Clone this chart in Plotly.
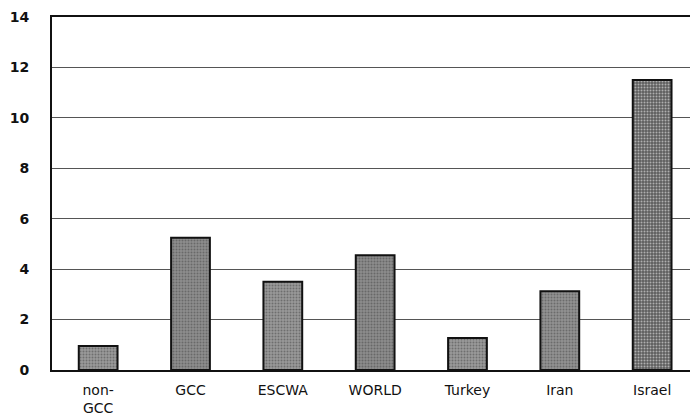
import plotly.graph_objects as go

categories = ["non-<br>GCC", "GCC", "ESCWA", "WORLD", "Turkey", "Iran", "Israel"]
values = [0.95, 5.25, 3.5, 4.55, 1.27, 3.12, 11.5]
bar_colors = ["#9a9a9a", "#8e8e8e", "#999999", "#8c8c8c", "#9a9a9a", "#929292", "#5e5e5e"]
y_ticks = [0, 2, 4, 6, 8, 10, 12, 14]

fig = go.Figure()
fig.add_trace(go.Bar(
    x=list(range(len(categories))),
    y=values,
    width=0.42,
    marker=dict(
        color=bar_colors,
        line=dict(color="#111111", width=2),
        pattern=dict(shape=".", fgcolor="#444444", size=3, solidity=0.35, fillmode="overlay"),
    ),
))

fig.update_layout(
    width=690, height=417,
    margin=dict(l=52, r=0, t=17, b=47),
    paper_bgcolor="white", plot_bgcolor="white",
    showlegend=False,
    font=dict(family="DejaVu Sans, Arial, sans-serif", size=14, color="#111111"),
)
fig.update_xaxes(
    tickmode="array", tickvals=list(range(len(categories))), ticktext=categories,
    range=[-0.5, 6.41], showgrid=False, showline=True, mirror=True,
    linecolor="#111111", linewidth=2, ticks="", ticklabelstandoff=6,
    tickfont=dict(size=14), automargin=False,
)
fig.update_yaxes(
    tickmode="array", tickvals=y_ticks, ticktext=[str(v) for v in y_ticks],
    range=[0, 14], showgrid=True, gridcolor="#555555", gridwidth=1,
    showline=True, linecolor="#111111", linewidth=2, zeroline=False,
    ticks="", ticklabelstandoff=18, tickfont=dict(size=14, weight="bold"),
    automargin=False,
)

fig.write_html(
    "out.html",
    config={"displayModeBar": False},
    post_script="document.body.style.margin='0';document.body.style.overflow='hidden';",
)
